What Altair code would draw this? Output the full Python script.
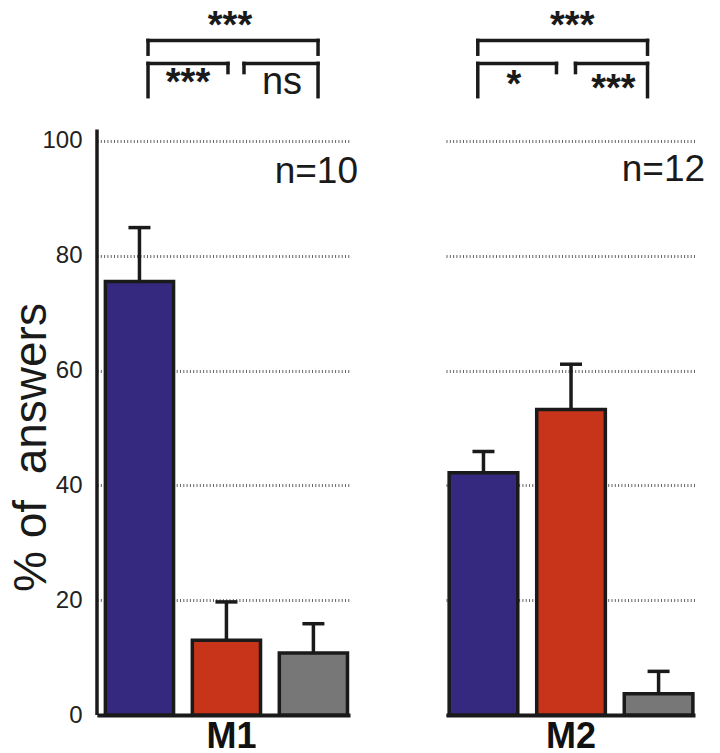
import altair as alt
import pandas as pd

FONT = "Liberation Sans, Arial, Helvetica, sans-serif"
INK = "#1a1a1a"

groups = ["M1", "M2"]
conditions = ["c1", "c2", "c3"]
bar_colors = ["#35297f", "#c8341a", "#777777"]
m1_means = [75.5, 13.0, 10.8]
m1_upper = [84.9, 19.7, 15.9]
m2_means = [42.2, 53.2, 3.7]
m2_upper = [45.9, 61.1, 7.6]

n_labels = ["n=10", "n=12"]
n_x = [3.095, 3.121]
n_y = [92.6, 93.0]

br_group = ["M1", "M1", "M1", "M2", "M2", "M2"]
br_left = [0.605, 0.605, 1.743, 0.383, 0.383, 1.560]
br_right = [2.621, 1.553, 2.621, 2.428, 1.331, 2.428]
br_level = [117.5, 113.5, 113.5, 117.5, 113.5, 113.5]
br_left_end = [115.1, 107.7, 111.9, 115.1, 107.7, 111.9]
br_right_end = [115.1, 111.9, 107.7, 115.1, 111.9, 107.7]

sig_group = ["M1", "M1", "M1", "M2", "M2", "M2"]
sig_text = ["***", "***", "ns", "***", "*", "***"]
sig_x = [1.577, 1.079, 2.194, 1.521, 0.819, 2.016]
sig_y = [117.9, 108.0, 108.2, 117.9, 107.6, 107.0]

y_ticks = [0, 20, 40, 60, 80, 100]
y_max = 122.8
axis_top = 102

panel_width = [253, 249]
panel_pad_outer = [0.0625, 0.03]
panel_align = [0.77, 0.6]
panel_title_x = [134, 124.5]
HEIGHT = 705

yscale = alt.Scale(domain=[0, y_max], nice=False, zero=True)
uscale = alt.Scale(domain=[0, 3], nice=False, zero=False)
grid_props = dict(grid=True, gridColor="#666666", gridDash=[1, 2.3], gridWidth=3)


def y_axis(show):
    if show:
        return alt.Axis(values=y_ticks, title="% of\u00a0 answers", titleFontSize=46,
                        titleFont=FONT, titleFontWeight="normal", titleColor="#1a1a1a",
                        titleAngle=270, titleX=-52, titleY=437, titleAlign="center",
                        titleBaseline="alphabetic", labelFontSize=24, labelFont=FONT,
                        labelColor="#222222", labelPadding=15, ticks=False, domain=False,
                        **grid_props)
    return alt.Axis(values=y_ticks, labels=False, ticks=False, domain=False, title=None,
                    **grid_props)


def panel(i, means, upper):
    g = groups[i]
    show = i == 0
    yax = y_axis(show)
    bars_df = pd.DataFrame({"cond": conditions, "value": means, "upper": upper})
    xscale = alt.Scale(domain=conditions, paddingInner=0.216,
                       paddingOuter=panel_pad_outer[i], align=panel_align[i])
    xaxis = alt.Axis(labels=False, ticks=False, grid=False, domainWidth=4, domainColor=INK,
                     title=g, titleFontSize=36, titleFont=FONT, titleFontWeight="bold",
                     titleColor="#111111", titleBaseline="alphabetic", titleY=32,
                     titleX=panel_title_x[i])
    base = alt.Chart(bars_df)
    bars = base.mark_bar(stroke=INK, strokeWidth=3.5).encode(
        x=alt.X("cond:N", scale=xscale, axis=xaxis),
        y=alt.Y("value:Q", scale=yscale, axis=yax),
        color=alt.Color("cond:N", scale=alt.Scale(domain=conditions, range=bar_colors),
                        legend=None),
    )
    err = base.mark_rule(color=INK, strokeWidth=3.5).encode(
        x=alt.X("cond:N", scale=xscale, axis=None),
        y=alt.Y("value:Q", scale=yscale, axis=yax),
        y2="upper:Q",
    )
    cap = base.mark_tick(color=INK, thickness=3.5, size=22, opacity=1).encode(
        x=alt.X("cond:N", scale=xscale, axis=None),
        y=alt.Y("upper:Q", scale=yscale, axis=yax),
    )

    br_df = pd.DataFrame({"g": br_group, "l": br_left, "r": br_right, "lev": br_level,
                          "le": br_left_end, "re": br_right_end})
    br_df = br_df[br_df["g"] == g]
    bb = alt.Chart(br_df)
    rule_kw = dict(color=INK, strokeWidth=3.5, strokeCap="square")
    h = bb.mark_rule(**rule_kw).encode(
        x=alt.X("l:Q", scale=uscale, axis=None), x2="r:Q",
        y=alt.Y("lev:Q", scale=yscale, axis=yax))
    vl = bb.mark_rule(**rule_kw).encode(
        x=alt.X("l:Q", scale=uscale, axis=None),
        y=alt.Y("lev:Q", scale=yscale, axis=yax), y2="le:Q")
    vr = bb.mark_rule(**rule_kw).encode(
        x=alt.X("r:Q", scale=uscale, axis=None),
        y=alt.Y("lev:Q", scale=yscale, axis=yax), y2="re:Q")

    sig_df = pd.DataFrame({"g": sig_group, "t": sig_text, "x": sig_x, "y": sig_y})
    sig_df = sig_df[sig_df["g"] == g]
    stars = alt.Chart(sig_df[sig_df["t"] != "ns"]).mark_text(
        font=FONT, fontSize=38, fontWeight="bold", color=INK, baseline="alphabetic",
        align="center").encode(
        x=alt.X("x:Q", scale=uscale, axis=None),
        y=alt.Y("y:Q", scale=yscale, axis=yax), text="t:N")
    layers = [bars, err, cap, h, vl, vr, stars]
    ns_df = sig_df[sig_df["t"] == "ns"]
    if len(ns_df):
        ns = alt.Chart(ns_df).mark_text(
            font=FONT, fontSize=38, fontWeight="normal", color=INK, baseline="alphabetic",
            align="center").encode(
            x=alt.X("x:Q", scale=uscale, axis=None),
            y=alt.Y("y:Q", scale=yscale, axis=yax), text="t:N")
        layers.append(ns)

    n_df = pd.DataFrame({"t": [n_labels[i]], "x": [n_x[i]], "y": [n_y[i]]})
    ntext = alt.Chart(n_df).mark_text(
        font=FONT, fontSize=37, color=INK, baseline="alphabetic", align="right").encode(
        x=alt.X("x:Q", scale=uscale, axis=None),
        y=alt.Y("y:Q", scale=yscale, axis=yax), text="t:N")
    layers.append(ntext)

    if show:
        ax_df = pd.DataFrame({"lo": [0], "hi": [axis_top]})
        yline = alt.Chart(ax_df).mark_rule(color=INK, strokeWidth=3.5).encode(
            x=alt.value(0),
            y=alt.Y("lo:Q", scale=yscale, axis=yax), y2="hi:Q")
        layers.append(yline)

    return alt.layer(*layers).resolve_scale(x="independent").properties(
        width=panel_width[i], height=HEIGHT)


chart = alt.hconcat(
    panel(0, m1_means, m1_upper),
    panel(1, m2_means, m2_upper),
    spacing=87,
).configure_view(strokeWidth=0).properties(padding=0, background="white")

chart.save("out.html", embed_options={"renderer": "svg", "actions": False})
